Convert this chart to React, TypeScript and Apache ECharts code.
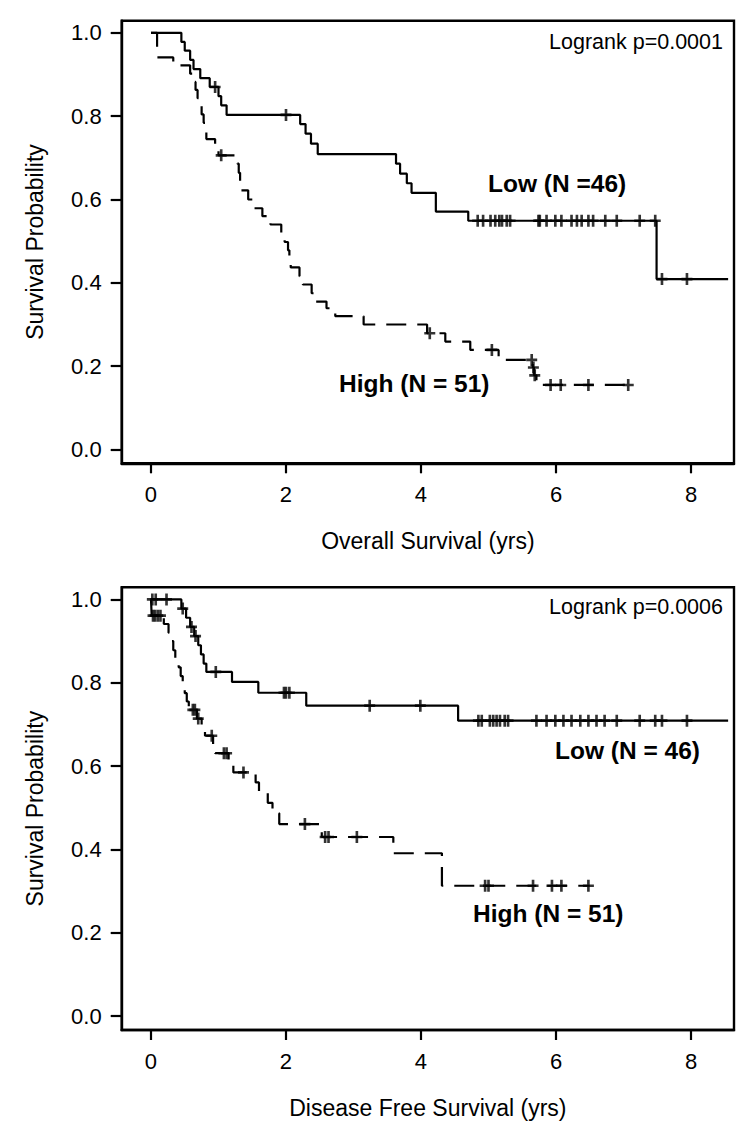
import React, { useEffect, useRef } from "react";
import * as echarts from "echarts";

// ---------- data ----------
const xTicks = [0, 2, 4, 6, 8];
const yTicks = [0, 0.2, 0.4, 0.6, 0.8, 1.0];

// Overall survival — Low (N = 46): [time, survival after event]
const osLowSteps: [number, number][] = [
  [0, 1.0], [0.45, 0.978], [0.5, 0.957], [0.58, 0.935], [0.63, 0.913], [0.73, 0.891],
  [0.87, 0.87], [1.0, 0.848], [1.04, 0.826], [1.12, 0.803], [2.21, 0.781], [2.29, 0.758],
  [2.37, 0.734], [2.47, 0.709], [3.63, 0.686], [3.69, 0.662], [3.79, 0.639], [3.86, 0.616],
  [4.22, 0.571], [4.7, 0.549], [7.49, 0.409], [8.55, 0.409],
];
const osLowCensor = [0.95, 2.0, 4.84, 4.92, 5.03, 5.1, 5.16, 5.2, 5.27, 5.32, 5.74, 5.76, 5.86, 5.99,
  6.08, 6.23, 6.31, 6.38, 6.48, 6.55, 6.73, 6.9, 7.24, 7.47, 7.57, 7.94];

// Overall survival — High (N = 51)
const osHighSteps: [number, number][] = [
  [0, 1.0], [0.09, 0.941], [0.33, 0.922], [0.58, 0.902], [0.62, 0.882], [0.66, 0.863],
  [0.69, 0.843], [0.72, 0.824], [0.75, 0.804], [0.78, 0.784], [0.8, 0.765], [0.82, 0.745],
  [0.95, 0.725], [1.0, 0.706], [1.28, 0.686], [1.3, 0.664], [1.32, 0.643], [1.34, 0.622],
  [1.44, 0.6], [1.52, 0.579], [1.65, 0.56], [1.77, 0.54], [1.93, 0.519], [1.98, 0.498],
  [2.03, 0.478], [2.05, 0.457], [2.07, 0.437], [2.2, 0.416], [2.25, 0.396], [2.38, 0.375],
  [2.42, 0.355], [2.6, 0.339], [2.73, 0.32], [3.15, 0.3], [4.09, 0.279], [4.36, 0.259],
  [4.73, 0.239], [5.15, 0.215], [5.655, 0.197], [5.675, 0.178], [5.71, 0.155], [7.07, 0.155],
];
const osHighCensor = [1.04, 4.13, 5.05, 5.64, 5.665, 5.685, 5.92, 6.07, 6.48, 7.07];

// Disease free survival — Low (N = 46)
const dfsLowSteps: [number, number][] = [
  [0, 1.0], [0.45, 0.978], [0.52, 0.956], [0.58, 0.934], [0.64, 0.912], [0.7, 0.89],
  [0.74, 0.868], [0.78, 0.846], [0.82, 0.826], [1.2, 0.802], [1.59, 0.776], [2.3, 0.745],
  [4.55, 0.709], [8.55, 0.709],
];
const dfsLowCensor = [0.02, 0.07, 0.23, 0.47, 0.6, 0.66, 0.96, 1.97, 2.0, 2.05, 3.24, 3.99,
  4.85, 4.9, 5.02, 5.07, 5.12, 5.17, 5.24, 5.29, 5.71, 5.86, 5.99, 6.11, 6.23, 6.36, 6.48,
  6.6, 6.72, 6.9, 7.24, 7.47, 7.57, 7.94];

// Disease free survival — High (N = 51)
const dfsHighSteps: [number, number][] = [
  [0, 1.0], [0.01, 0.961], [0.19, 0.941], [0.26, 0.92], [0.3, 0.9], [0.33, 0.878],
  [0.36, 0.857], [0.41, 0.837], [0.44, 0.816], [0.47, 0.796], [0.5, 0.775], [0.53, 0.755],
  [0.56, 0.735], [0.68, 0.714], [0.75, 0.693], [0.8, 0.673], [0.92, 0.652], [0.95, 0.631],
  [1.15, 0.608], [1.22, 0.585], [1.55, 0.561], [1.6, 0.537], [1.73, 0.512], [1.8, 0.487],
  [1.9, 0.461], [2.53, 0.43], [3.59, 0.391], [4.31, 0.313], [6.5, 0.313],
];
const dfsHighCensor = [0.03, 0.06, 0.1, 0.14, 0.62, 0.65, 0.7, 0.9, 1.08, 1.12, 1.37, 2.28,
  2.58, 2.63, 3.05, 4.95, 5.0, 5.66, 5.94, 6.08, 6.48];

const pvalues = ["Logrank p=0.0001", "Logrank p=0.0006"];
const xNames = ["Overall Survival (yrs)", "Disease Free Survival (yrs)"];
const yName = "Survival Probability";
const groupLabels = [
  ["Low (N =46)", "High (N = 51)"],
  ["Low (N = 46)", "High (N = 51)"],
];

// ---------- helpers ----------
const FONT = '"Liberation Sans", Arial, Helvetica, sans-serif';
const X_MIN = -0.434;
const X_MAX = 8.637;
const Y_MIN = -0.033;
const Y_MAX = 1.029;

function levelAt(steps: [number, number][], t: number): number {
  let v = steps[0][1];
  for (const [st, sv] of steps) {
    if (st <= t) v = sv;
    else break;
  }
  return v;
}

const PLUS = "path://M3.8,0H6.2V3.9H10V6.1H6.2V10H3.8V6.1H0V3.9H3.8Z";

function makeAxes(idx: number) {
  const x = {
    type: "value",
    gridIndex: idx,
    min: X_MIN,
    max: X_MAX,
    name: xNames[idx],
    nameLocation: "middle",
    nameGap: 66,
    nameTextStyle: { fontFamily: FONT, fontSize: 23, color: "#000" },
    axisLine: { show: true, onZero: false, lineStyle: { color: "#000", width: 2.4 } },
    axisTick: { show: true, length: 10, lineStyle: { color: "#000", width: 2.2 }, customValues: xTicks },
    axisLabel: {
      show: true,
      margin: 20,
      fontFamily: FONT,
      fontSize: 22,
      color: "#000",
      customValues: xTicks,
      formatter: (v: number) => String(Math.round(v)),
    },
    splitLine: { show: false },
  };
  const y = {
    type: "value",
    gridIndex: idx,
    min: Y_MIN,
    max: Y_MAX,
    name: yName,
    nameLocation: "middle",
    nameGap: 75,
    nameRotate: 90,
    nameTextStyle: { fontFamily: FONT, fontSize: 23, color: "#000" },
    axisLine: { show: true, onZero: false, lineStyle: { color: "#000", width: 2.4 } },
    axisTick: { show: true, length: 11, lineStyle: { color: "#000", width: 2.2 }, customValues: yTicks },
    axisLabel: {
      show: true,
      margin: 20,
      fontFamily: FONT,
      fontSize: 22,
      color: "#000",
      customValues: yTicks,
      formatter: (v: number) => v.toFixed(1),
    },
    splitLine: { show: false },
  };
  return { x, y };
}

function makeSeries(
  idx: number,
  lowSteps: [number, number][],
  lowCensor: number[],
  highSteps: [number, number][],
  highCensor: number[]
) {
  return [
    {
      type: "line",
      xAxisIndex: idx,
      yAxisIndex: idx,
      step: "end",
      showSymbol: false,
      symbol: "none",
      data: lowSteps,
      lineStyle: { color: "#000", width: 2.2 },
      silent: true,
    },
    {
      type: "line",
      xAxisIndex: idx,
      yAxisIndex: idx,
      step: "end",
      showSymbol: false,
      symbol: "none",
      data: highSteps,
      lineStyle: { color: "#000", width: 2.2, type: [20, 11] },
      silent: true,
    },
    {
      type: "scatter",
      xAxisIndex: idx,
      yAxisIndex: idx,
      symbol: PLUS,
      symbolSize: [11, 12],
      itemStyle: { color: "#000" },
      data: lowCensor.map((t) => [t, levelAt(lowSteps, t)]),
      silent: true,
    },
    {
      type: "scatter",
      xAxisIndex: idx,
      yAxisIndex: idx,
      symbol: PLUS,
      symbolSize: [11, 12],
      itemStyle: { color: "#000" },
      data: highCensor.map((t) => [t, levelAt(highSteps, t)]),
      silent: true,
    },
  ];
}

export default function App() {
  const ref = useRef<HTMLDivElement>(null);

  useEffect(() => {
    if (!ref.current) return;
    const chart = echarts.init(ref.current, null, { renderer: "svg" });
    const a0 = makeAxes(0);
    const a1 = makeAxes(1);

    const label = (text: string, x: number, y: number, opts: any = {}) => ({
      type: "text",
      x,
      y,
      silent: true,
      style: {
        text,
        fill: "#000",
        fontFamily: FONT,
        fontSize: opts.fontSize ?? 20,
        fontWeight: opts.bold ? "bold" : "normal",
        align: opts.align ?? "left",
        verticalAlign: "middle",
      },
    });

    chart.setOption({
      animation: false,
      backgroundColor: "#fff",
      grid: [
        { left: 121.7, top: 20.7, width: 612.3, height: 442.6, show: true, borderColor: "#000", borderWidth: 2.4, backgroundColor: "transparent" },
        { left: 121.7, top: 587.3, width: 612.3, height: 442.7, show: true, borderColor: "#000", borderWidth: 2.4, backgroundColor: "transparent" },
      ],
      xAxis: [a0.x, a1.x],
      yAxis: [a0.y, a1.y],
      series: [
        ...makeSeries(0, osLowSteps, osLowCensor, osHighSteps, osHighCensor),
        ...makeSeries(1, dfsLowSteps, dfsLowCensor, dfsHighSteps, dfsHighCensor),
      ],
      graphic: [
        label(pvalues[0], 723, 42, { align: "right", fontSize: 21.5 }),
        label(pvalues[1], 723, 607, { align: "right", fontSize: 21.5 }),
        label(groupLabels[0][0], 488, 183, { bold: true, fontSize: 24.5 }),
        label(groupLabels[0][1], 339, 383, { bold: true, fontSize: 24.5 }),
        label(groupLabels[1][0], 555, 750, { bold: true, fontSize: 24.5 }),
        label(groupLabels[1][1], 473, 913, { bold: true, fontSize: 24.5 }),
      ],
    });
    return () => chart.dispose();
  }, []);

  return (
    <div
      ref={ref}
      style={{ position: "absolute", left: 0, top: 0, width: 750, height: 1133, background: "#fff" }}
    />
  );
}
